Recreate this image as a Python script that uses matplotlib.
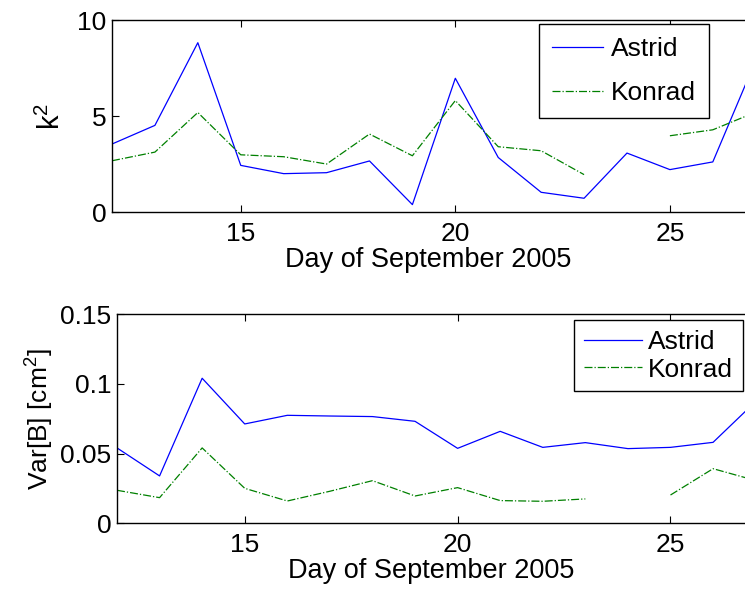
import numpy as np
import matplotlib
matplotlib.use('Agg')
import matplotlib.pyplot as plt

plt.rcParams['font.family'] = ['Liberation Sans', 'DejaVu Sans']
plt.rcParams['mathtext.fontset'] = 'custom'
plt.rcParams['mathtext.rm'] = 'Liberation Sans'

days = np.arange(12, 28)

# k^2 per day
k2_astrid = [3.55, 4.52, 8.82, 2.44, 2.01, 2.06, 2.67, 0.40, 6.97, 2.85,
             1.04, 0.73, 3.08, 2.22, 2.62, 7.9]
k2_konrad = [2.68, 3.13, 5.19, 2.99, 2.89, 2.51, 4.07, 2.94, 5.81, 3.41,
             3.20, 1.96, np.nan, 3.98, 4.29, 5.21]

# Var[B] per day
var_astrid = [0.0541, 0.0340, 0.1041, 0.0713, 0.0775, 0.0770, 0.0766, 0.0732,
              0.0538, 0.0660, 0.0545, 0.0579, 0.0536, 0.0545, 0.0581, 0.0874]
var_konrad = [0.0237, 0.0184, 0.0541, 0.0251, 0.0160, 0.0230, 0.0306, 0.0196,
              0.0256, 0.0163, 0.0158, 0.0175, np.nan, 0.0203, 0.0392, 0.0307]

W, H = 745, 591
fig = plt.figure(figsize=(W / 100, H / 100), dpi=100)

fs = 19
blue = (0, 0, 1)
green = (0, 0.5, 0)


def style(ax):
    ax.spines['right'].set_visible(False)
    for s in ['top', 'bottom', 'left']:
        ax.spines[s].set_linewidth(1.0)
    ax.tick_params(direction='in', top=True, right=False, length=5,
                   width=0.8, labelsize=fs)
    ax.tick_params(axis='x', pad=7)
    ax.tick_params(axis='y', pad=4)
    ax.set_xlim(12, 26.75)
    ax.set_xticks([15, 20, 25])
    ax.set_xlabel('Day of September 2005', fontsize=fs + 0.5, labelpad=1)


# top panel
ax1 = fig.add_axes([112 / W, 1 - 212.3 / H, 1 - 112 / W, (212.3 - 20) / H])
ax1.plot(days, k2_astrid, color=blue, lw=0.9, label='Astrid')
ax1.plot(days, k2_konrad, color=green, lw=0.9, ls='-.', label='Konrad')
style(ax1)
ax1.set_ylim(0, 10)
ax1.set_yticks([0, 5, 10])
ax1.set_ylabel('k$^2$', fontsize=fs + 2, labelpad=8)
leg1 = ax1.legend(loc='upper right', bbox_to_anchor=(708.7 / W, 1 - 24.3 / H),
                  bbox_transform=fig.transFigure, fontsize=fs, fancybox=False,
                  framealpha=1, edgecolor='black', borderaxespad=0,
                  handlelength=1.95, handletextpad=0.27, labelspacing=0.73,
                  borderpad=0.5)
leg1.get_frame().set_linewidth(1.0)

# bottom panel
ax2 = fig.add_axes([117 / W, 1 - 523.3 / H, 1 - 117 / W, (523.3 - 314.3) / H])
ax2.plot(days, var_astrid, color=blue, lw=0.9, label='Astrid')
ax2.plot(days, var_konrad, color=green, lw=0.9, ls='-.', label='Konrad')
style(ax2)
ax2.set_ylim(0, 0.15)
ax2.set_yticks([0, 0.05, 0.1, 0.15])
ax2.set_yticklabels(['0', '0.05', '0.1', '0.15'])
ax2.set_ylabel('Var[B] [cm$^2$]', fontsize=fs, labelpad=4)
leg2 = ax2.legend(loc='upper right', bbox_to_anchor=(743 / W, 1 - 320 / H),
                  bbox_transform=fig.transFigure, fontsize=fs, fancybox=False,
                  framealpha=1, edgecolor='black', borderaxespad=0,
                  handlelength=2.2, handletextpad=0.23, labelspacing=0.15,
                  borderpad=0.37)
leg2.get_frame().set_linewidth(1.0)

fig.savefig('out.png', dpi=100)
